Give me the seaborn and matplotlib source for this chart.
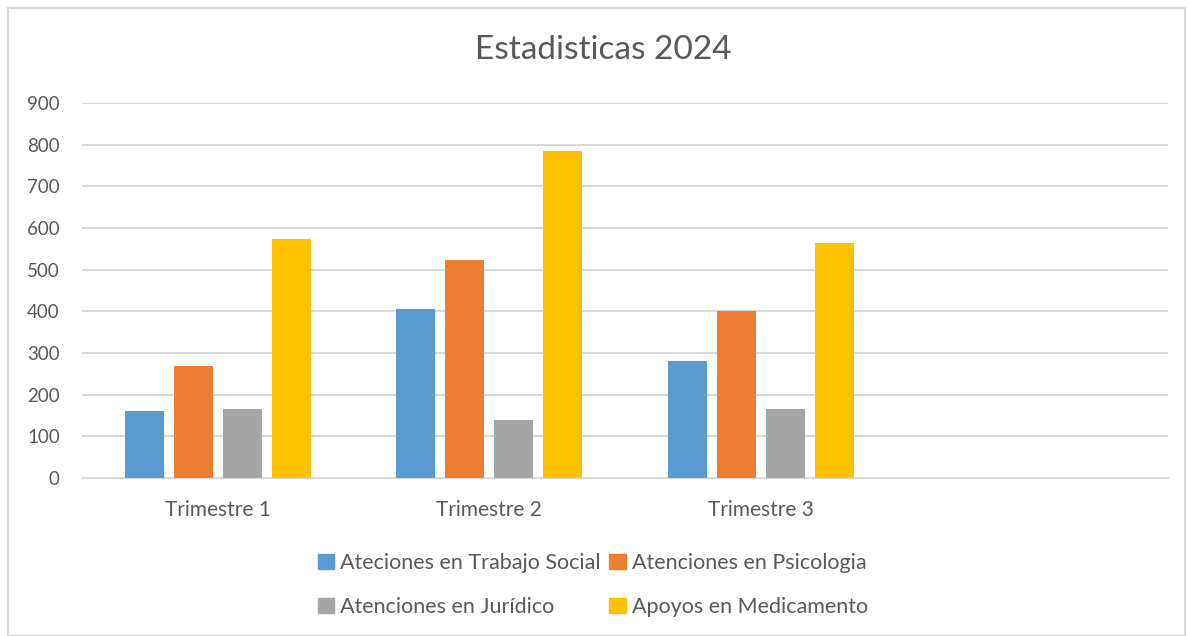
import pandas as pd
import seaborn as sns
import matplotlib.pyplot as plt
from matplotlib.patches import Rectangle

# data
trimestres = ['Trimestre 1', 'Trimestre 2', 'Trimestre 3']
series = ['Ateciones en Trabajo Social', 'Atenciones en Psicologia',
          'Atenciones en Jurídico', 'Apoyos en Medicamento']
trabajo_social = [160, 406, 282]
psicologia = [270, 523, 402]
juridico = [165, 140, 166]
medicamento = [573, 784, 564]
colors = ['#5B9BD5', '#ED7D31', '#A5A5A5', '#FFC000']
y_ticks = [0, 100, 200, 300, 400, 500, 600, 700, 800, 900]

rows = []
for name, vals in zip(series, [trabajo_social, psicologia, juridico, medicamento]):
    for t, v in zip(trimestres, vals):
        rows.append({'Trimestre': t, 'Serie': name, 'Valor': v})
df = pd.DataFrame(rows)

sns.set_style('white')
plt.rcParams['font.family'] = ['Lato', 'DejaVu Sans']
text_col = '#595959'
grid_col = '#D9D9D9'

fig = plt.figure(figsize=(11.88, 6.36), dpi=100)
ax = fig.add_axes([82/1188, 1 - 478/636, (1168-82)/1188, (478-103)/636])

sns.barplot(data=df, x='Trimestre', y='Valor', hue='Serie', order=trimestres,
            hue_order=series, palette=colors, saturation=1, width=0.722, ax=ax,
            legend=False, linewidth=0, zorder=3)

# leave a small gap between bars of a group
for p in ax.patches:
    w = p.get_width()
    new_w = w * 39 / 49
    p.set_x(p.get_x() + (w - new_w) / 2)
    p.set_width(new_w)

ax.set_xlim(-0.5, 3.5)
ax.set_ylim(0, 900)
ax.set_yticks(y_ticks)
ax.yaxis.grid(True, color=grid_col, linewidth=1.5, zorder=0)
for s in ['top', 'right', 'left']:
    ax.spines[s].set_visible(False)
ax.spines['bottom'].set_color(grid_col)
ax.spines['bottom'].set_linewidth(1.5)
ax.tick_params(axis='both', length=0, colors=text_col)
ax.tick_params(axis='y', pad=16, labelsize=13.5)
ax.tick_params(axis='x', pad=16, labelsize=15)
ax.set_xlabel('')
ax.set_ylabel('')

fig.text(603/1188, 1 - 50/636, 'Estadisticas 2024', ha='center', va='center',
         fontsize=24, color=text_col)

# legend filled row by row, like the original
handles = [Rectangle((0, 0), 1, 1, color=c) for c in colors]
order = [0, 2, 1, 3]
fig.legend([handles[i] for i in order], [series[i] for i in order],
           loc='center', bbox_to_anchor=(593/1188, 1 - 585/636),
           ncol=2, frameon=False, fontsize=15.5, labelcolor=text_col,
           handlelength=0.75, handleheight=0.75, handletextpad=0.3,
           columnspacing=0.4, labelspacing=1.12)

# chart border
fig.patches.append(Rectangle((8/1188, 0), 1177/1188, 1 - 8/636,
                             transform=fig.transFigure, fill=False,
                             edgecolor=grid_col, linewidth=1.5))

fig.savefig('out.png', dpi=100, facecolor='white')
